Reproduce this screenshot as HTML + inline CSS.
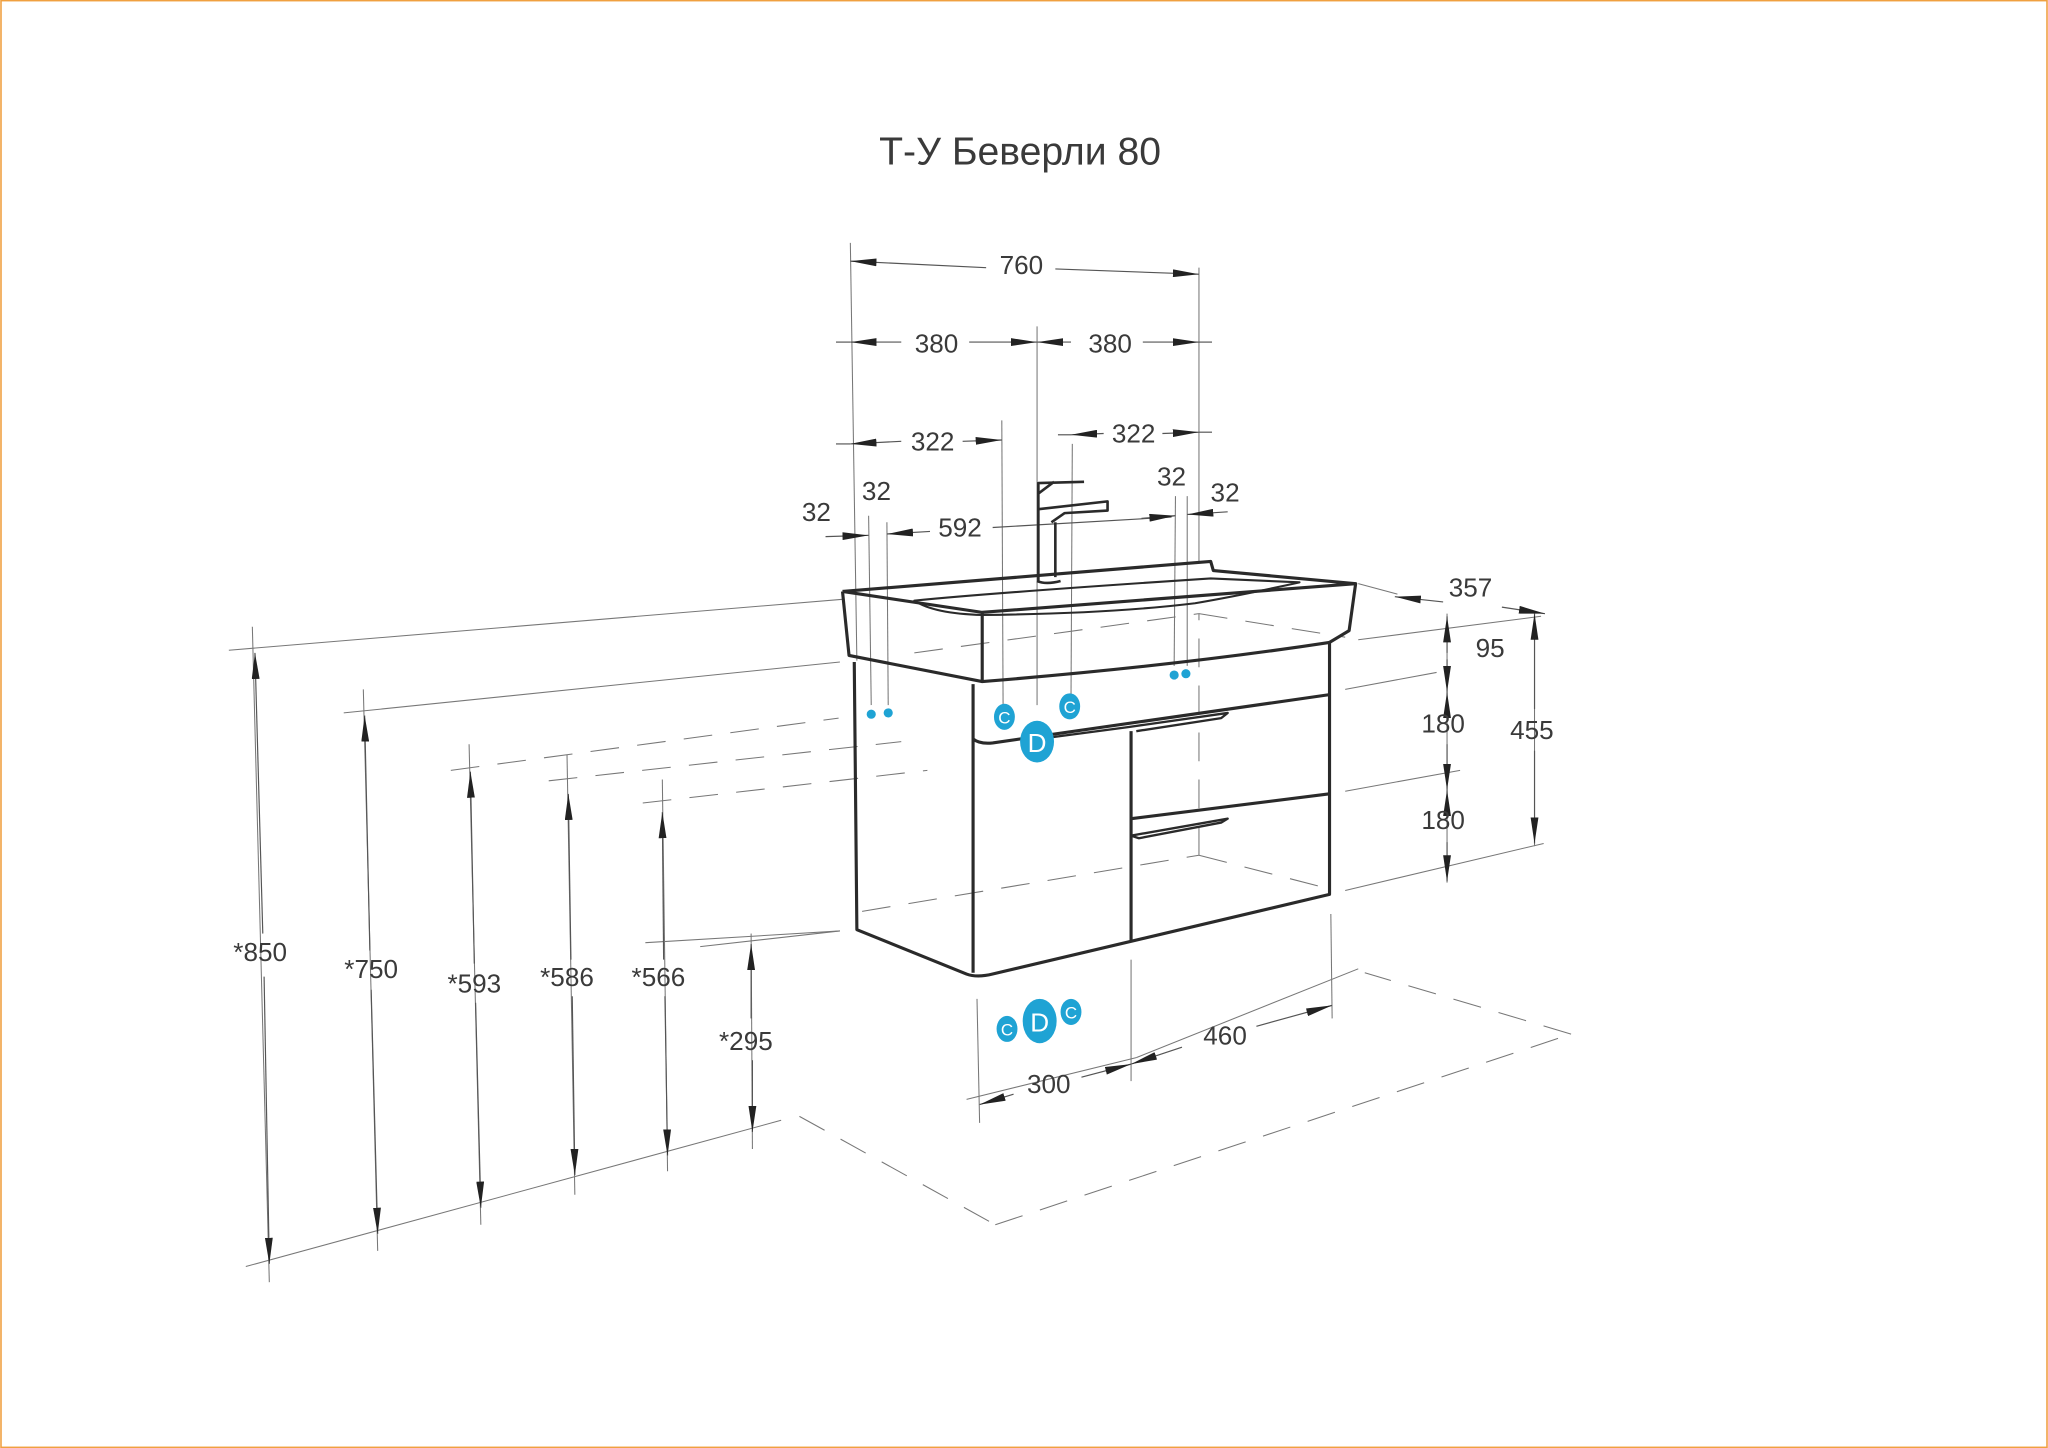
<!DOCTYPE html>
<html><head><meta charset="utf-8"><style>
html,body{margin:0;padding:0;background:#fff;}
svg{display:block;}
text{font-family:"Liberation Sans","DejaVu Sans",sans-serif;fill:#3a3a3a;}
</style></head><body>
<svg width="2048" height="1448" viewBox="0 0 1568 1109" xmlns="http://www.w3.org/2000/svg">
<defs>
<marker id="a" viewBox="0 0 20 6" refX="20" refY="3" markerWidth="20" markerHeight="6" markerUnits="userSpaceOnUse" orient="auto"><path d="M0,0 L20,3 L0,6 z" fill="#222"/></marker>
<marker id="b" viewBox="0 0 20 6" refX="0" refY="3" markerWidth="20" markerHeight="6" markerUnits="userSpaceOnUse" orient="auto"><path d="M20,0 L0,3 L20,6 z" fill="#222"/></marker>
</defs>
<rect x="0.5" y="0.5" width="1567" height="1108" fill="#fff" stroke="#f0a040" stroke-width="1.2"/>
<text x="781" y="126" font-size="30" text-anchor="middle">Т-У Беверли 80</text>

<g stroke="#777" stroke-width="0.8" fill="none">
<line x1="175" y1="498" x2="645" y2="459"/>
<line x1="263" y1="546" x2="643" y2="507"/>
<line x1="188" y1="970" x2="598" y2="858"/>
<line x1="494" y1="722" x2="643" y2="713"/>
<line x1="536" y1="725" x2="643" y2="713"/>
<g stroke-dasharray="22,14">
<line x1="345" y1="590" x2="642" y2="550"/>
<line x1="420" y1="598" x2="690" y2="568"/>
<line x1="492" y1="615" x2="710" y2="590"/>
<line x1="660" y1="698" x2="918" y2="655"/>
<line x1="918" y1="655" x2="1015" y2="680"/>
<line x1="918" y1="655" x2="918" y2="470"/>
<line x1="700" y1="500" x2="918" y2="470"/>
<line x1="918" y1="470" x2="1030" y2="488"/>
<line x1="612" y1="855" x2="762" y2="938"/>
<line x1="762" y1="938" x2="1203" y2="792"/>
<line x1="1203" y1="792" x2="1045" y2="745"/>
</g>
<line x1="1030" y1="528" x2="1100" y2="515"/>
<line x1="1030" y1="606" x2="1118" y2="590"/>
<line x1="1030" y1="682" x2="1182" y2="646"/>
<line x1="1040" y1="490" x2="1180" y2="472"/>
<line x1="1040" y1="447" x2="1070" y2="455"/>
<line x1="651" y1="186" x2="656" y2="506"/>
<line x1="918" y1="205" x2="918" y2="430"/>
<line x1="794" y1="250" x2="794" y2="540"/>
<line x1="767" y1="322" x2="768" y2="545"/>
<line x1="821" y1="340" x2="820" y2="535"/>
<line x1="665" y1="395" x2="667" y2="540"/>
<line x1="679" y1="400" x2="680" y2="540"/>
<line x1="900" y1="380" x2="899" y2="510"/>
<line x1="909" y1="380" x2="909" y2="510"/>
<line x1="748" y1="765" x2="750" y2="860"/>
<line x1="866" y1="735" x2="866" y2="828"/>
<line x1="1019" y1="700" x2="1020" y2="780"/>
<line x1="740" y1="842" x2="870" y2="810"/>
<line x1="870" y1="810" x2="1040" y2="742"/>
<line x1="193" y1="480" x2="206" y2="982"/>
<line x1="278" y1="528" x2="289" y2="958"/>
<line x1="359" y1="570" x2="368" y2="938"/>
<line x1="434" y1="578" x2="440" y2="915"/>
<line x1="507" y1="597" x2="511" y2="897"/>
<line x1="575" y1="715" x2="576" y2="880"/>
<line x1="1108" y1="470" x2="1108" y2="676"/>
<line x1="1175" y1="468" x2="1175" y2="648"/>
</g>

<g stroke="#555" stroke-width="0.9" fill="none">
<line x1="651" y1="200" x2="755" y2="205" marker-start="url(#b)"/>
<line x1="808" y1="206" x2="918" y2="210" marker-end="url(#a)"/>
<line x1="651" y1="262" x2="690" y2="262" marker-start="url(#b)"/>
<line x1="742" y1="262" x2="794" y2="262" marker-end="url(#a)"/>
<line x1="794" y1="262" x2="820" y2="262" marker-start="url(#b)"/>
<line x1="875" y1="262" x2="918" y2="262" marker-end="url(#a)"/>
<line x1="640" y1="262" x2="651" y2="262"/>
<line x1="918" y1="262" x2="928" y2="262"/>
<line x1="651" y1="340" x2="690" y2="338" marker-start="url(#b)"/>
<line x1="737" y1="338" x2="767" y2="337" marker-end="url(#a)"/>
<line x1="640" y1="340" x2="651" y2="340"/>
<line x1="820" y1="333" x2="845" y2="332" marker-start="url(#b)"/>
<line x1="890" y1="332" x2="918" y2="331" marker-end="url(#a)"/>
<line x1="810" y1="333" x2="820" y2="333"/>
<line x1="918" y1="331" x2="928" y2="331"/>
<line x1="632" y1="411" x2="665" y2="410" marker-end="url(#a)"/>
<line x1="679" y1="409" x2="712" y2="407" marker-start="url(#b)"/>
<line x1="760" y1="404" x2="897" y2="396" />
<line x1="874" y1="397" x2="900" y2="395" marker-end="url(#a)"/>
<line x1="909" y1="394" x2="940" y2="392" marker-start="url(#b)"/>
<line x1="1068" y1="457" x2="1105" y2="461" marker-start="url(#b)"/>
<line x1="1150" y1="465" x2="1183" y2="470" marker-end="url(#a)"/>
<line x1="195" y1="500" x2="201" y2="715" marker-start="url(#b)"/>
<line x1="202" y1="748" x2="206" y2="968" marker-end="url(#a)"/>
<line x1="279" y1="548" x2="283" y2="728" marker-start="url(#b)"/>
<line x1="284" y1="758" x2="289" y2="945" marker-end="url(#a)"/>
<line x1="360" y1="591" x2="363" y2="738" marker-start="url(#b)"/>
<line x1="364" y1="768" x2="368" y2="925" marker-end="url(#a)"/>
<line x1="435" y1="608" x2="437" y2="735" marker-start="url(#b)"/>
<line x1="438" y1="763" x2="440" y2="900" marker-end="url(#a)"/>
<line x1="507" y1="622" x2="508" y2="735" marker-start="url(#b)"/>
<line x1="509" y1="763" x2="511" y2="885" marker-end="url(#a)"/>
<line x1="575" y1="723" x2="575" y2="780" marker-start="url(#b)"/>
<line x1="576" y1="812" x2="576" y2="867" marker-end="url(#a)"/>
<line x1="1108" y1="472" x2="1108" y2="500" marker-start="url(#b)"/>
<line x1="1108" y1="505" x2="1108" y2="530" marker-end="url(#a)"/>
<line x1="1108" y1="530" x2="1108" y2="540" marker-start="url(#b)"/>
<line x1="1108" y1="570" x2="1108" y2="605" marker-end="url(#a)"/>
<line x1="1108" y1="605" x2="1108" y2="615" marker-start="url(#b)"/>
<line x1="1108" y1="645" x2="1108" y2="675" marker-end="url(#a)"/>
<line x1="1175" y1="470" x2="1175" y2="543" marker-start="url(#b)"/>
<line x1="1175" y1="575" x2="1175" y2="646" marker-end="url(#a)"/>
<line x1="750" y1="846" x2="776" y2="838" marker-start="url(#b)"/>
<line x1="828" y1="825" x2="866" y2="815" marker-end="url(#a)"/>
<line x1="866" y1="815" x2="905" y2="802" marker-start="url(#b)"/>
<line x1="962" y1="786" x2="1020" y2="770" marker-end="url(#a)"/>
</g>

<g stroke="#2a2a2a" stroke-width="2.4" fill="none" stroke-linejoin="round">
<path d="M645,453 L927,430 L929,437 L1038,447 L1033,483 L1018,492"/>
<path d="M645,453 L752,469 L1038,447"/>
<path d="M645,453 L650,502 L752,522 M752,469 L752,522 Q900,510 1018,492"/>
<path d="M700,460 Q760,454 927,443 L995,446 Q950,456 915,462 Q850,470 752,471 Q715,470 700,460 Z" stroke-width="1.6"/>
<path d="M654,507 L656,712 L740,746 Q748,749 760,746 L1018,685 L1018,492"/>
<path d="M745,524 L745,745"/>
<path d="M745,566 Q750,570 760,569 L1018,532"/>
<path d="M866,560 L866,720"/>
<path d="M866,627 L1018,608"/>
<path d="M795,566 L863,557 L940,546 L935,550 L870,560" stroke-width="1.8"/>
<path d="M866,640 L940,627 L935,630 L872,642 Z" stroke-width="1.8"/>
<path d="M795,445 L795,370 L830,369 M795,378 L807,369 M795,390 L848,384 L848,391 L815,393 L805,400 M808,400 L808,442 M794,445 Q801,448 812,445" stroke-width="2"/>
</g>

<g fill="#1fa3d4">
<circle cx="667" cy="547" r="3.5"/><circle cx="680" cy="546" r="3.5"/>
<circle cx="899" cy="517" r="3.5"/><circle cx="908" cy="516" r="3.5"/>
<ellipse cx="769" cy="549" rx="8" ry="10"/>
<ellipse cx="819" cy="541" rx="8" ry="10"/>
<ellipse cx="794" cy="568" rx="13" ry="16"/>
<ellipse cx="771" cy="788" rx="8" ry="10"/>
<ellipse cx="820" cy="775" rx="8" ry="10"/>
<ellipse cx="796" cy="782" rx="13" ry="17"/>
</g>
<g font-size="13" text-anchor="middle">
<text x="769" y="554" style="fill:#fff">C</text>
<text x="819" y="546" style="fill:#fff">C</text>
<text x="771" y="793" style="fill:#fff">C</text>
<text x="820" y="780" style="fill:#fff">C</text>
<text x="794" y="576" font-size="20" style="fill:#fff">D</text>
<text x="796" y="790" font-size="20" style="fill:#fff">D</text>
</g>

<g font-size="20" text-anchor="middle">
<text x="782" y="210">760</text>
<text x="717" y="270">380</text>
<text x="850" y="270">380</text>
<text x="714" y="345">322</text>
<text x="868" y="339">322</text>
<text x="625" y="399">32</text>
<text x="671" y="383">32</text>
<text x="735" y="411">592</text>
<text x="897" y="372">32</text>
<text x="938" y="384">32</text>
<text x="1126" y="457">357</text>
<text x="1141" y="503">95</text>
<text x="1105" y="561">180</text>
<text x="1105" y="635">180</text>
<text x="1173" y="566">455</text>
<text x="199" y="736">*850</text>
<text x="284" y="749">*750</text>
<text x="363" y="760">*593</text>
<text x="434" y="755">*586</text>
<text x="504" y="755">*566</text>
<text x="571" y="804">*295</text>
<text x="938" y="800">460</text>
<text x="803" y="837">300</text>
</g>
</svg>
</body></html>
